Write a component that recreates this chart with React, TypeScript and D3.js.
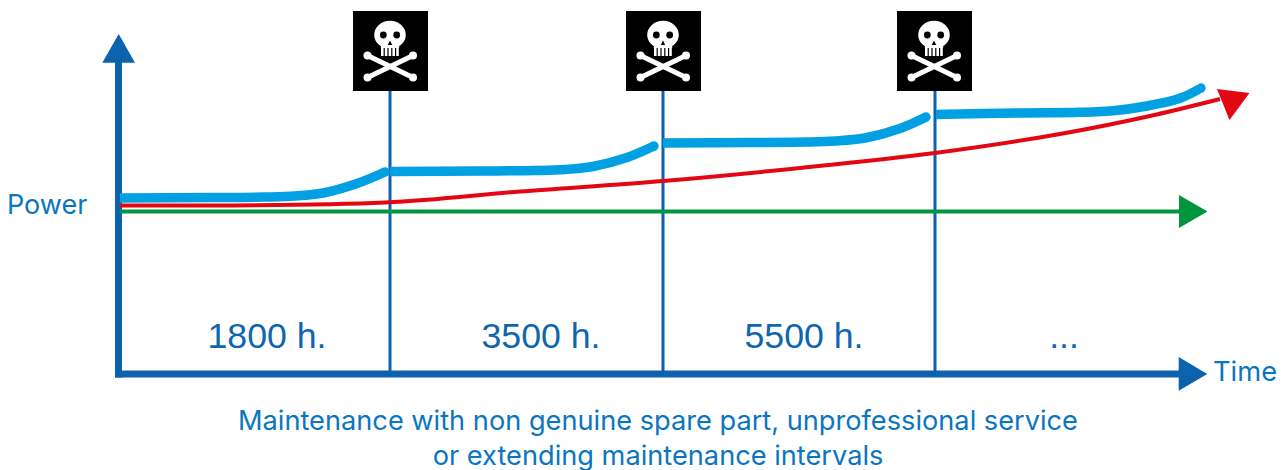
import React from "react";
import * as d3 from "d3";

const W = 1286, H = 470;
const FONT = "Inter, 'Liberation Sans', Arial, sans-serif";

// x: time units from the power axis; y: power units above the time axis
const serviceTimes = [270, 543, 815];
const skullTimes = [270, 543, 814];
const intervalLabels = ["1800 h.", "3500 h.", "5500 h.", "..."];
const intervalLabelTimes = [147, 421, 684, 944];
const caption = ["Maintenance with non genuine spare part, unprofessional service", "or extending maintenance intervals"];

const blueT1 = [0, 90, 145, 175, 203, 237, 265];
const blueP1 = [176, 176.5, 177, 178, 181, 190.5, 202];
const blueT2 = [270, 360, 415, 445, 473, 507, 534];
const blueP2 = [202.5, 203, 203.5, 204.5, 207.5, 216.5, 228];
const blueT3 = [543, 630, 685, 715, 745, 780, 806];
const blueP3 = [231, 231.5, 232, 233, 236, 245.5, 257];
const blueT4 = [816, 900, 960, 993, 1027, 1060, 1081];
const blueP4 = [259.5, 261, 261.7, 263.3, 268, 275.7, 286];

const redT = [0, 265, 400, 543, 680, 815, 940, 1030, 1100];
const redP = [168.5, 171.5, 182.5, 193, 206, 221, 240, 258, 275];
const greenT = [0, 1062];
const greenP = [162.5, 162.5];

const x = d3.scaleLinear().domain([0, 1087]).range([120, 1207]);
const y = d3.scaleLinear().domain([0, 340]).range([374, 34]);

const line = d3.line<[number, number]>().x(d => x(d[0])).y(d => y(d[1])).curve(d3.curveCatmullRom.alpha(0.5));
const zip = (t: number[], p: number[]) => t.map((v, i) => [v, p[i]] as [number, number]);
const blueSegments = [zip(blueT1, blueP1), zip(blueT2, blueP2), zip(blueT3, blueP3), zip(blueT4, blueP4)];

const AXIS = "#0b63ae", TEXT = "#0a76bf", BIG = "#0f66b0";

function Skull({ cx }: { cx: number }) {
  const bones: [number, number, number, number][] = [
    [-22.5, 55.5, 23, 77.5],
    [23, 55.5, -22.5, 77.5],
  ];
  const teeth = d3.range(5).map(i => -9 + i * 3.8);
  return (
    <g transform={`translate(${cx},0)`}>
      <rect x={-37} y={11} width={75} height={80} fill="#000" />
      <path d="M-15.8,35 A15.8,14.3 0 1 1 15.8,35 C15.8,40 12.5,44 9.2,46 L9.2,48 L-9.2,48 L-9.2,46 C-12.5,44 -15.8,40 -15.8,35 Z" fill="#fff" />
      {teeth.map(t => <rect key={t} x={t} y={46} width={2.6} height={10} fill="#fff" />)}
      <circle cx={-6.7} cy={35} r={3.4} fill="#000" />
      <circle cx={6.7} cy={35} r={3.4} fill="#000" />
      <path d="M0,40.5 L2.2,45 L-2.2,45 Z" fill="#000" />
      {bones.map((b, i) => (
        <g key={i} fill="#fff">
          <line x1={b[0]} y1={b[1]} x2={b[2]} y2={b[3]} stroke="#fff" strokeWidth={5} />
          <circle cx={b[0]} cy={b[1]} r={4} />
          <circle cx={b[2]} cy={b[3]} r={4} />
        </g>
      ))}
    </g>
  );
}

export default function App() {
  const axisTop = y(312);
  return (
    <svg width={W} height={H} viewBox={`0 0 ${W} ${H}`} style={{ position: "absolute", left: 0, top: 0, background: "#fff" }} fontFamily={FONT}>
      {serviceTimes.map(t => (
        <line key={t} x1={x(t)} x2={x(t)} y1={90} y2={y(0)} stroke={AXIS} strokeWidth={3} />
      ))}
      {skullTimes.map(t => <Skull key={t} cx={x(t)} />)}

      <line x1={118.5} x2={118.5} y1={y(-3.5)} y2={axisTop} stroke={AXIS} strokeWidth={7} />
      <path d="M102.3,62.7 L135,62.7 L118.7,34 Z" fill={AXIS} />
      <line x1={115} x2={1182} y1={y(0)} y2={y(0)} stroke={AXIS} strokeWidth={7} />
      <path d="M1178.7,357 L1207.3,374 L1178.7,390.7 Z" fill={AXIS} />

      <path d={line(zip(greenT, greenP)) ?? ""} fill="none" stroke="#009640" strokeWidth={4} />
      <path d="M1179,195 L1207.5,211.5 L1179,228 Z" fill="#009640" />

      <path d={line(zip(redT, redP)) ?? ""} fill="none" stroke="#e30613" strokeWidth={4} />
      <path d="M1217,89 L1249.5,93 L1229.5,120 Z" fill="#e30613" />

      {blueSegments.map((s, i) => (
        <path key={i} d={line(s) ?? ""} fill="none" stroke="#00a0e3" strokeWidth={9.5} />
      ))}
      {blueSegments.map((s, i) => {
        const end = s[s.length - 1];
        return <circle key={i} cx={x(end[0])} cy={y(end[1])} r={4.75} fill="#00a0e3" />;
      })}

      {intervalLabels.map((l, i) => (
        <text key={l} x={x(intervalLabelTimes[i])} y={348} textAnchor="middle" fontSize={35.7} fontFamily="'Liberation Sans', Arial, sans-serif" fill={BIG}>{l}</text>
      ))}
      <text x={7} y={214} fontSize={27} fill={TEXT}>Power</text>
      <text x={1213} y={381} fontSize={27.3} fill={TEXT}>Time</text>
      {caption.map((c, i) => (
        <text key={c} x={658} y={430 + i * 34.5} textAnchor="middle" fontSize={27.2} fill={TEXT}>{c}</text>
      ))}
    </svg>
  );
}
